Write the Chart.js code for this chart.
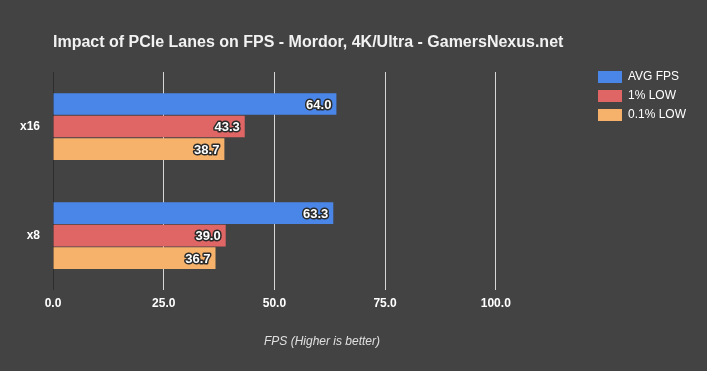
<!DOCTYPE html>
<html>
<head>
<meta charset="utf-8">
<script src="https://cdn.jsdelivr.net/npm/chart.js@4/dist/chart.umd.min.js"></script>
<style>
  html, body { margin: 0; padding: 0; background: #434343; }
  #wrap { width: 707px; height: 371px; }
</style>
</head>
<body>
<div id="wrap"><canvas id="c" width="707" height="371"></canvas></div>
<script>
const categories = ['x16', 'x8'];
const seriesNames = ['AVG FPS', '1% LOW', '0.1% LOW'];
const avgFps = [64.0, 63.3];
const low1 = [43.3, 39.0];
const low01 = [38.7, 36.7];
const xTicks = [0, 25, 50, 75, 100];
const colors = ['#4a86e8', '#e06666', '#f6b26b'];

const FONT = "'Liberation Sans', Arial, sans-serif";

const bgPlugin = {
  id: 'bg',
  beforeDraw(chart) {
    const ctx = chart.ctx;
    ctx.save();
    ctx.fillStyle = '#434343';
    ctx.fillRect(0, 0, chart.width, chart.height);
    ctx.restore();
  }
};

const labelPlugin = {
  id: 'barLabels',
  afterDatasetsDraw(chart) {
    const ctx = chart.ctx;
    ctx.save();
    ctx.font = 'bold 13px ' + FONT;
    ctx.textAlign = 'right';
    ctx.textBaseline = 'middle';
    ctx.lineJoin = 'round';
    chart.data.datasets.forEach((ds, i) => {
      const meta = chart.getDatasetMeta(i);
      meta.data.forEach((bar, j) => {
        const txt = Number(ds.data[j]).toFixed(1);
        const x = bar.x - 5;
        const y = bar.y + 1;
        ctx.lineWidth = 3;
        ctx.strokeStyle = '#2a2a2a';
        ctx.strokeText(txt, x, y);
        ctx.fillStyle = '#ffffff';
        ctx.fillText(txt, x, y);
      });
    });
    ctx.restore();
  }
};

const seriesData = [avgFps, low1, low01];

new Chart(document.getElementById('c'), {
  type: 'bar',
  data: {
    labels: categories,
    datasets: seriesNames.map((n, i) => ({
      label: n,
      data: seriesData[i],
      backgroundColor: colors[i],
      borderWidth: 0,
      barPercentage: 0.96,
      categoryPercentage: 0.62
    }))
  },
  options: {
    indexAxis: 'y',
    responsive: false,
    animation: false,
    devicePixelRatio: 1,
    layout: { padding: { left: 7, right: 11, top: 0, bottom: 0 } },
    plugins: {
      title: {
        display: true,
        text: 'Impact of PCIe Lanes on FPS - Mordor, 4K/Ultra - GamersNexus.net',
        align: 'start',
        fullSize: false,
        color: '#f2f2f2',
        font: { family: FONT, size: 16, weight: 'bold' },
        padding: { top: 33.4, bottom: 19.4 }
      },
      legend: {
        position: 'right',
        align: 'start',
        fullSize: true,
        title: { display: true, text: '', font: { family: FONT, size: 12 }, padding: { top: 49.6, bottom: 0 } },
        labels: {
          boxWidth: 24,
          boxHeight: 12,
          padding: 7,
          color: '#ffffff',
          font: { family: FONT, size: 12 }
        }
      },
      tooltip: { enabled: false }
    },
    scales: {
      x: {
        type: 'linear',
        min: 0,
        max: 121.5,
        afterBuildTicks(scale) {
          scale.ticks = xTicks.map(v => ({ value: v }));
        },
        ticks: {
          includeBounds: false,
          padding: 6,
          color: '#ffffff',
          font: { family: FONT, size: 12, weight: 'bold' },
          callback: v => Number(v).toFixed(1)
        },
        grid: {
          drawTicks: false,
          color: c => (c.tick && c.tick.value === 0) ? '#2e2e2e' : '#d6d6d6',
          lineWidth: 1
        },
        border: { display: false },
        title: {
          display: true,
          text: 'FPS (Higher is better)',
          color: '#e0e0e0',
          font: { family: FONT, size: 12, style: 'italic' },
          padding: { top: 18, bottom: 22 }
        }
      },
      y: {
        type: 'category',
        grid: { display: false, drawTicks: false },
        border: { display: false },
        ticks: {
          padding: 13,
          color: '#ffffff',
          font: { family: FONT, size: 12, weight: 'bold' }
        }
      }
    }
  },
  plugins: [bgPlugin, labelPlugin]
});
</script>
</body>
</html>
